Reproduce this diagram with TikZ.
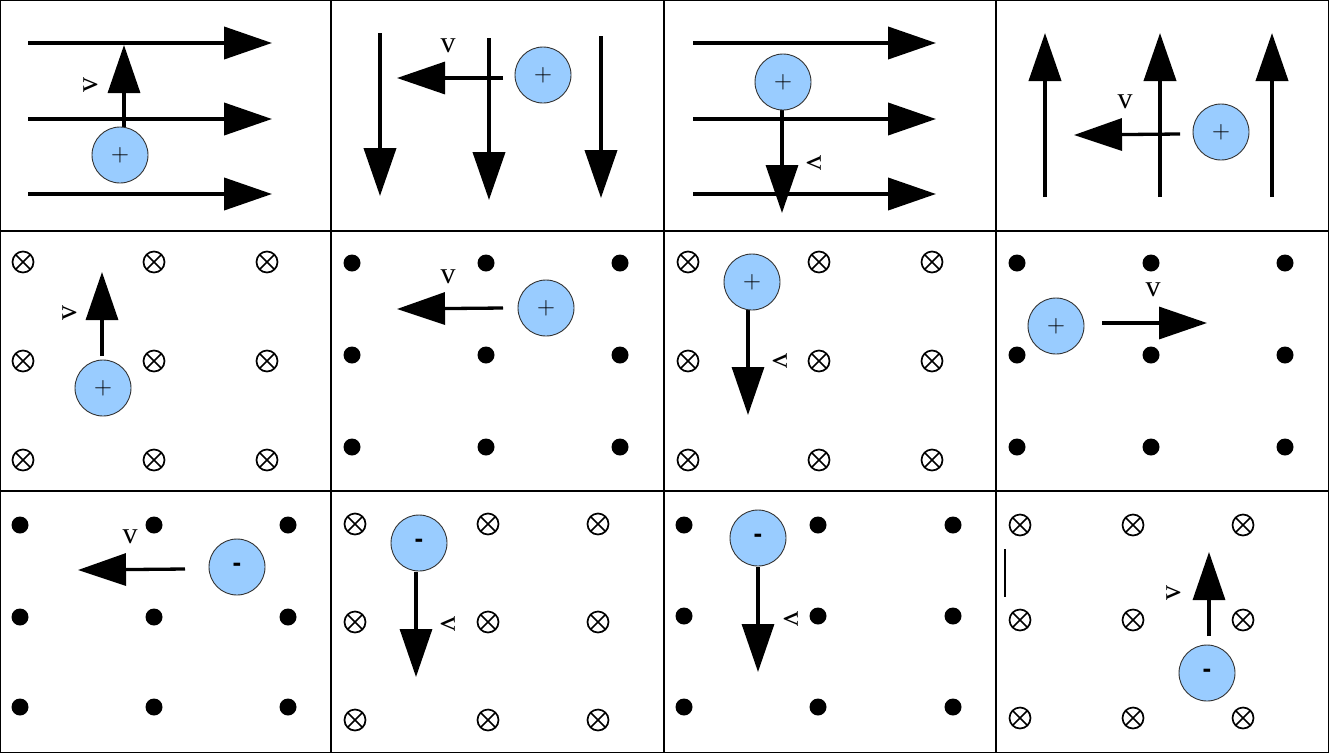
\documentclass[tikz,border=0pt]{standalone}
\usepackage{fontspec}
\setmainfont{Liberation Serif}
\newfontfamily\chargefont{Liberation Sans}
\usepackage{tikz}
\usetikzlibrary{arrows.meta}
\definecolor{chargeblue}{HTML}{99CCFF}
\tikzset{cellline/.style={line width=1.3pt},
    fieldline/.style={line width=4pt,-{Triangle[length=48pt,width=32pt]}},
    velarrow/.style={line width=3.3pt,-{Triangle[length=48pt,width=32pt]}},
    charge/.style={draw=black!80,line width=0.9pt,circle,fill=chargeblue,minimum size=56pt,inner sep=0},
    chargepos/.style={charge,font=\fontsize{26}{26}\selectfont},
    chargeneg/.style={charge,font=\chargefont\bfseries\fontsize{26}{26}\selectfont},
    vlabel/.style={font=\fontsize{30}{30}\selectfont,inner sep=0},
    intopage/.style={draw,circle,line width=1.7pt,minimum size=21pt,inner sep=0,
        path picture={\draw [line width=1.7pt]
            (path picture bounding box.north west) -- (path picture bounding box.south east)
            (path picture bounding box.north east) -- (path picture bounding box.south west);}},
    outofpage/.style={circle,fill,inner sep=0,minimum size=17pt}
}
\newcommand{\fieldgrid}[4]
{
% args: (name prefix, node style, list of x, list of y)
    \foreach \x [count=\i] in {#3}
        \foreach \y [count=\j] in {#4}
            \node (#1\i\j) [#2] at (\x,\y) {};
}
\newcommand{\horizfield}[3]
{
% args: (x of tail, x of tip, list of y)
    \foreach \y in {#3}
        \draw [fieldline] (#1,\y) -- (#2,\y);
}
\newcommand{\vertfield}[1]
{
% args: list of x/tail/tip triples
    \foreach \x/\ytail/\ytip in {#1}
        \draw [fieldline] (\x,\ytail) -- (\x,\ytip);
}
\newcommand{\velocity}[5]
{
% args: (name, tail, tip, label position, label rotation)
    \coordinate (#1tail) at #2;
    \coordinate (#1tip) at #3;
    \draw [velarrow] (#1tail) -- (#1tip);
    \node (#1label) [vlabel,rotate=#5] at #4 {v};
}

\begin{document}
\begin{tikzpicture}[x=1pt,y=-1pt]

\useasboundingbox (0,0) rectangle (1329,753);

\draw [cellline] (0.65,0.65) rectangle (1328.35,752.35);
\foreach \x in {331,664,996}
    \draw [cellline] (\x,0.65) -- (\x,752.35);
\foreach \y in {231,491}
    \draw [cellline] (0.65,\y) -- (1328.35,\y);

\horizfield{28}{272}{43,119,194}
\vertfield{380/33/196,489/38/200,601/36/198}
\horizfield{693}{936}{43,119,194}
\vertfield{1045/197/33,1160/197/33,1272/197/33}

\fieldgrid{bE}{intopage}{23,154,267}{262,361,460}
\fieldgrid{bF}{outofpage}{352,486,620}{263,355,447}
\fieldgrid{bG}{intopage}{688,819,932}{262,361,460}
\fieldgrid{bH}{outofpage}{1017,1151,1285}{263,355,447}
\fieldgrid{bI}{outofpage}{20,154,288}{525,617,707}
\fieldgrid{bJ}{intopage}{355,488,598}{524,622,720}
\fieldgrid{bK}{outofpage}{684,818,953}{525,616,707}
\fieldgrid{bL}{intopage}{1020,1133,1243}{525,620,718}

\velocity{vA}{(124,127)}{(124,45)}{(91,85)}{90}
\velocity{vB}{(503,78)}{(397,78)}{(448,46)}{0}
\velocity{vC}{(782,110)}{(782,213)}{(814,163)}{-90}
\velocity{vD}{(1180,134)}{(1074,135)}{(1125,102)}{0}
\velocity{vE}{(102,356)}{(102,272)}{(70,313)}{90}
\velocity{vF}{(503,308)}{(397,309)}{(448,277)}{0}
\velocity{vG}{(748,310)}{(748,415)}{(780,361)}{-90}
\velocity{vH}{(1102,323)}{(1207,323)}{(1153,290)}{0}
\velocity{vI}{(185,569)}{(78,570)}{(130,537)}{0}
\velocity{vJ}{(416,572)}{(416,677)}{(448,624)}{-90}
\velocity{vK}{(758,567)}{(758,672)}{(791,619)}{-90}
\velocity{vL}{(1209,636)}{(1209,552)}{(1174,593)}{90}

\node (qA) at (120,155) [chargepos] {$+$};
\node (qB) at (543,75) [chargepos] {$+$};
\node (qC) at (783,82) [chargepos] {$+$};
\node (qD) at (1221,132) [chargepos] {$+$};
\node (qE) at (103,388) [chargepos] {$+$};
\node (qF) at (546,308) [chargepos] {$+$};
\node (qG) at (752,282) [chargepos] {$+$};
\node (qH) at (1056,326) [chargepos] {$+$};
\node (qI) at (237,567) [chargeneg] {-};
\node (qJ) at (419,543) [chargeneg] {-};
\node (qK) at (758,538) [chargeneg] {-};
\node (qL) at (1207,673) [chargeneg] {-};

\draw [line width=2pt] (1005,549) -- (1005,597);

\end{tikzpicture}
\end{document}
